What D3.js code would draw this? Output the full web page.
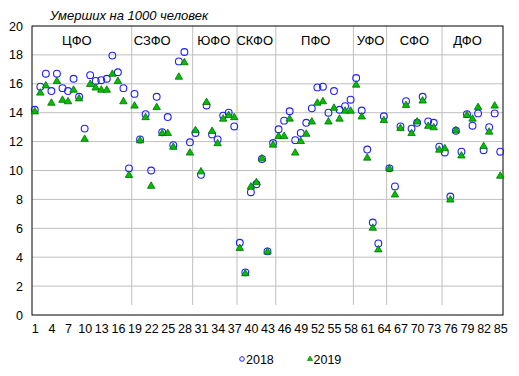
<!DOCTYPE html>
<html>
<head>
<meta charset="utf-8">
<script src="https://cdn.jsdelivr.net/npm/d3@7"></script>
<style>
  body { margin: 0; background: #fff; }
  text { font-family: "Liberation Sans", Arial, sans-serif; }
</style>
</head>
<body>
<svg id="chart"></svg>
<script>
// regions numbered 1..85, grouped by federal district
const regions = d3.range(1, 86);

const v2018 = [
  14.2, 15.8, 16.7, 15.5, 16.7, 15.7, 15.5, 16.35, 15.1, 12.9,
  16.6, 16.2, 16.25, 16.35, 17.95, 16.8, 15.7, 10.15, 15.3, 12.15,
  13.9, 10.0, 15.1, 12.65, 13.7, 11.75, 17.55, 18.2, 11.95, 12.6,
  9.7, 14.5, 12.5, 12.15, 13.8, 14.0, 13.05, 5.0, 2.95, 8.5,
  9.05, 10.8, 4.4, 11.9, 12.85, 13.45, 14.1, 12.1, 12.6, 13.3,
  14.3, 15.75, 15.8, 14.0, 15.5, 14.2, 14.45, 14.9, 16.4, 14.15,
  11.45, 6.4, 4.95, 13.75, 10.15, 8.9, 13.05, 14.8, 12.9, 13.3,
  15.1, 13.4, 13.3, 11.65, 11.25, 8.2, 12.75, 11.3, 13.9, 13.1,
  13.95, 11.4, 13.0, 13.95, 11.3
];

const v2019 = [
  14.1, 15.4, 15.9, 14.7, 16.2, 14.9, 14.8, 15.6, 15.0, 12.2,
  16.0, 15.75, 15.6, 15.6, 16.7, 16.2, 14.8, 9.7, 14.5, 12.1,
  13.7, 8.95, 14.4, 12.6, 12.6, 11.65, 16.5, 17.5, 11.25, 12.8,
  9.95, 14.75, 12.75, 11.9, 13.6, 13.85, 13.7, 4.65, 2.9, 8.9,
  9.2, 10.85, 4.4, 11.8, 12.4, 12.4, 13.6, 11.25, 12.05, 12.55,
  13.4, 14.7, 14.8, 13.4, 14.35, 13.6, 14.15, 14.15, 15.95, 13.75,
  10.9, 6.05, 4.55, 13.5, 10.15, 8.35, 12.95, 14.55, 12.6, 13.4,
  14.85, 13.1, 13.0, 11.45, 11.55, 8.0, 12.8, 11.05, 13.85, 13.6,
  14.4, 11.7, 12.7, 14.5, 9.65
];

const districts = ["ЦФО", "СЗФО", "ЮФО", "СКФО", "ПФО", "УФО", "СФО", "ДФО"];
const districtLast = [18, 29, 37, 44, 58, 64, 74, 85];   // last region number in each district
const districtLabelAt = [8.6, 22.2, 33.3, 40.7, 51.7, 61.6, 69.5, 79.1];

const yTicks = d3.range(0, 21, 2);
const xTicks = d3.range(1, 86, 3);
const seriesNames = ["2018", "2019"];

const w = 519, h = 376;
const mLeft = 32, mRight = 503, mTop = 26, mBottom = 315;

const svg = d3.select("#chart").attr("width", w).attr("height", h);

const x = d3.scaleLinear().domain([0.5, 85.5]).range([mLeft, mRight]);
const y = d3.scaleLinear().domain([0, 20]).range([mBottom, mTop]);

// horizontal grid
svg.append("g")
  .selectAll("line")
  .data(yTicks.filter(d => d > 0 && d < 20))
  .enter()
  .append("line")
  .attr("x1", mLeft).attr("x2", mRight)
  .attr("y1", d => y(d)).attr("y2", d => y(d))
  .attr("stroke", "#bfbfbf");

// district separators
svg.append("g")
  .selectAll("line")
  .data(districtLast.slice(0, -1))
  .enter()
  .append("line")
  .attr("x1", d => x(d + 0.5)).attr("x2", d => x(d + 0.5))
  .attr("y1", y(0.7)).attr("y2", y(20))
  .attr("stroke", "#bfbfbf");

// frame
svg.append("rect")
  .attr("x", mLeft).attr("y", mTop)
  .attr("width", mRight - mLeft).attr("height", mBottom - mTop)
  .attr("fill", "none").attr("stroke", "#000");

// axes
const yAxis = svg.append("g")
  .attr("transform", `translate(${mLeft},0)`)
  .call(d3.axisLeft(y).tickValues(yTicks).tickSize(0).tickPadding(9));
yAxis.select(".domain").remove();
yAxis.selectAll("text").attr("font-size", 12.5).attr("font-family", "Liberation Sans, Arial, sans-serif").attr("fill", "#000");

const xAxis = svg.append("g")
  .attr("transform", `translate(0,${mBottom})`)
  .call(d3.axisBottom(x).tickValues(xTicks).tickFormat(d3.format("d")).tickSize(0).tickPadding(9));
xAxis.select(".domain").remove();
xAxis.selectAll("text").attr("font-size", 12.5).attr("font-family", "Liberation Sans, Arial, sans-serif").attr("fill", "#000");

// district labels
svg.append("g")
  .selectAll("text")
  .data(districts)
  .enter()
  .append("text")
  .attr("x", (d, i) => x(districtLabelAt[i]))
  .attr("y", 45)
  .attr("text-anchor", "middle")
  .attr("font-size", 13)
  .text(d => d);

// title
svg.append("text")
  .attr("x", 129).attr("y", 20)
  .attr("text-anchor", "middle")
  .attr("font-size", 13)
  .attr("font-style", "italic")
  .text("Умерших на 1000 человек");

// 2018 circles
svg.append("g")
  .selectAll("circle")
  .data(regions)
  .enter()
  .append("circle")
  .attr("cx", d => x(d))
  .attr("cy", (d, i) => y(v2018[i]))
  .attr("r", 3.4)
  .attr("fill", "none")
  .attr("stroke", "#1f1fff")
  .attr("stroke-width", 1.1);

const tri = d3.symbol().type(d3.symbolTriangle).size(24);

// 2019 triangles, drawn over the circles
svg.append("g")
  .selectAll("path")
  .data(regions)
  .enter()
  .append("path")
  .attr("d", tri)
  .attr("transform", (d, i) => `translate(${x(d)},${y(v2019[i]) + 0.5})`)
  .attr("fill", "#00c000")
  .attr("stroke", "#007000")
  .attr("stroke-width", 0.8);

// legend
const legend = svg.append("g").attr("font-size", 12.5);
legend.append("circle")
  .attr("cx", 242).attr("cy", 359).attr("r", 2.3)
  .attr("fill", "none").attr("stroke", "#1f1fff");
legend.append("text").attr("x", 246).attr("y", 363.5).text(seriesNames[0]);
legend.append("path")
  .attr("d", d3.symbol().type(d3.symbolTriangle).size(12))
  .attr("transform", "translate(310,359)")
  .attr("fill", "#00c000").attr("stroke", "#007000").attr("stroke-width", 0.6);
legend.append("text").attr("x", 313.5).attr("y", 363.5).text(seriesNames[1]);
</script>
</body>
</html>
